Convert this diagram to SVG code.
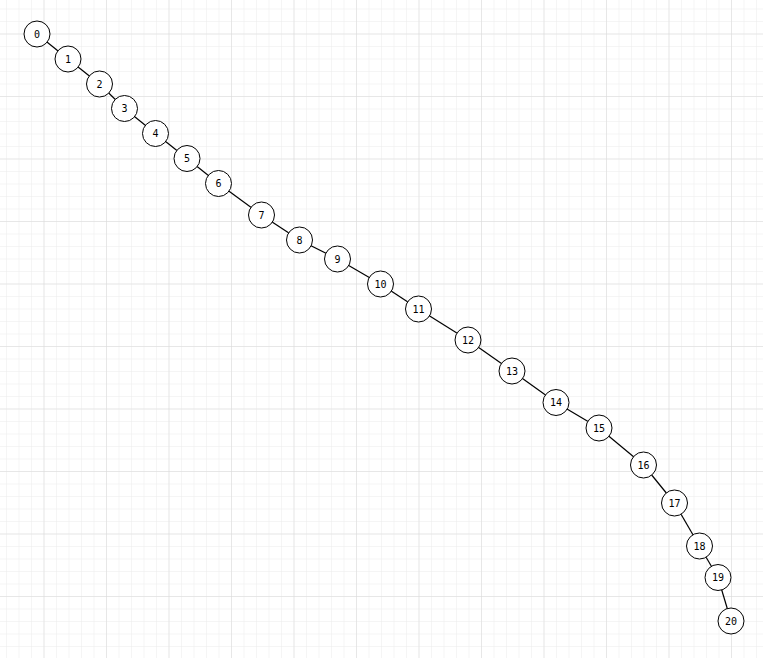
<svg xmlns="http://www.w3.org/2000/svg" width="763" height="658" viewBox="0 0 763 658">
<defs>
<pattern id="minor" x="6" y="8.5" width="12.5" height="12.5" patternUnits="userSpaceOnUse">
<path d="M0 0H12.5M0 0V12.5" fill="none" stroke="#ececec" stroke-width="1"/>
</pattern>
<pattern id="major" x="43.5" y="33.5" width="62.5" height="62.5" patternUnits="userSpaceOnUse">
<path d="M0 0H62.5M0 0V62.5" fill="none" stroke="#dadada" stroke-width="1"/>
</pattern>
<style>
.n circle{fill:#fff;stroke:#000;stroke-width:1}
.n text{font-family:"DejaVu Sans Mono","Liberation Mono",monospace;font-size:10px;fill:#000;text-anchor:middle;dominant-baseline:central}
.e line{stroke:#000;stroke-width:1.2}
</style>
</defs>
<rect width="763" height="658" fill="#fff"/>
<rect width="763" height="658" fill="url(#minor)"/>
<rect width="763" height="658" fill="url(#major)"/>
<g id="connectors" class="e">
<line x1="37" y1="34" x2="68" y2="59"/>
<line x1="68" y1="59" x2="99.5" y2="84"/>
<line x1="99.5" y1="84" x2="124.5" y2="108.5"/>
<line x1="124.5" y1="108.5" x2="155.5" y2="133.5"/>
<line x1="155.5" y1="133.5" x2="187" y2="158.5"/>
<line x1="187" y1="158.5" x2="218.5" y2="183.5"/>
<line x1="218.5" y1="183.5" x2="261.5" y2="215"/>
<line x1="261.5" y1="215" x2="299.5" y2="240"/>
<line x1="299.5" y1="240" x2="337.5" y2="259"/>
<line x1="337.5" y1="259" x2="380.5" y2="284"/>
<line x1="380.5" y1="284" x2="418.5" y2="309"/>
<line x1="418.5" y1="309" x2="468" y2="340"/>
<line x1="468" y1="340" x2="512" y2="371"/>
<line x1="512" y1="371" x2="556" y2="402.5"/>
<line x1="556" y1="402.5" x2="599" y2="428"/>
<line x1="599" y1="428" x2="643.5" y2="465"/>
<line x1="643.5" y1="465" x2="674.5" y2="503"/>
<line x1="674.5" y1="503" x2="699.5" y2="546"/>
<line x1="699.5" y1="546" x2="718" y2="577.5"/>
<line x1="718" y1="577.5" x2="731" y2="621"/>
</g>
<g id="node0" class="n"><circle cx="37" cy="34" r="13"/><text x="37" y="34">0</text></g>
<g id="node1" class="n"><circle cx="68" cy="59" r="13"/><text x="68" y="59">1</text></g>
<g id="node2" class="n"><circle cx="99.5" cy="84" r="13"/><text x="99.5" y="84">2</text></g>
<g id="node3" class="n"><circle cx="124.5" cy="108.5" r="13"/><text x="124.5" y="108.5">3</text></g>
<g id="node4" class="n"><circle cx="155.5" cy="133.5" r="13"/><text x="155.5" y="133.5">4</text></g>
<g id="node5" class="n"><circle cx="187" cy="158.5" r="13"/><text x="187" y="158.5">5</text></g>
<g id="node6" class="n"><circle cx="218.5" cy="183.5" r="13"/><text x="218.5" y="183.5">6</text></g>
<g id="node7" class="n"><circle cx="261.5" cy="215" r="13"/><text x="261.5" y="215">7</text></g>
<g id="node8" class="n"><circle cx="299.5" cy="240" r="13"/><text x="299.5" y="240">8</text></g>
<g id="node9" class="n"><circle cx="337.5" cy="259" r="13"/><text x="337.5" y="259">9</text></g>
<g id="node10" class="n"><circle cx="380.5" cy="284" r="13"/><text x="380.5" y="284">10</text></g>
<g id="node11" class="n"><circle cx="418.5" cy="309" r="13"/><text x="418.5" y="309">11</text></g>
<g id="node12" class="n"><circle cx="468" cy="340" r="13"/><text x="468" y="340">12</text></g>
<g id="node13" class="n"><circle cx="512" cy="371" r="13"/><text x="512" y="371">13</text></g>
<g id="node14" class="n"><circle cx="556" cy="402.5" r="13"/><text x="556" y="402.5">14</text></g>
<g id="node15" class="n"><circle cx="599" cy="428" r="13"/><text x="599" y="428">15</text></g>
<g id="node16" class="n"><circle cx="643.5" cy="465" r="13"/><text x="643.5" y="465">16</text></g>
<g id="node17" class="n"><circle cx="674.5" cy="503" r="13"/><text x="674.5" y="503">17</text></g>
<g id="node18" class="n"><circle cx="699.5" cy="546" r="13"/><text x="699.5" y="546">18</text></g>
<g id="node19" class="n"><circle cx="718" cy="577.5" r="13"/><text x="718" y="577.5">19</text></g>
<g id="node20" class="n"><circle cx="731" cy="621" r="13"/><text x="731" y="621">20</text></g>
</svg>
